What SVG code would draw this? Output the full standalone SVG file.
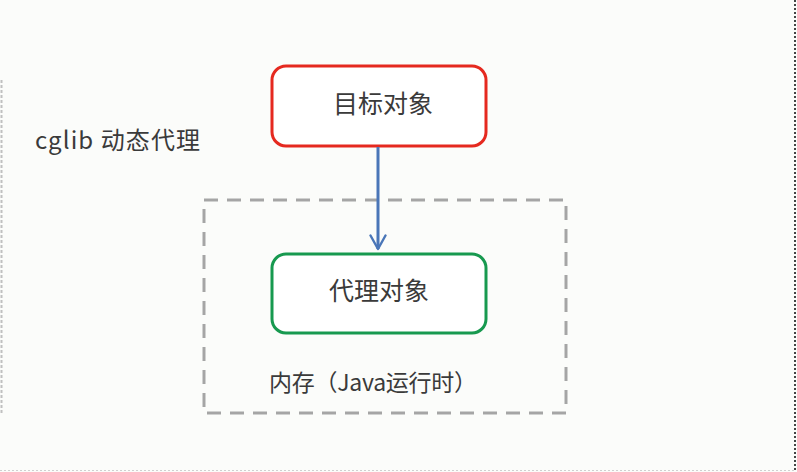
<svg xmlns="http://www.w3.org/2000/svg" width="797" height="472" viewBox="0 0 797 472">
<style>
text{font-family:"Noto Sans CJK SC","Open Sans",sans-serif;fill:#3a3a3a}
.node{fill:#ffffff;stroke-width:3}
</style>
<defs>
<marker id="arr" viewBox="0 0 12 12" refX="10" refY="6" markerWidth="6" markerHeight="6" orient="auto" markerUnits="strokeWidth">
<path d="M1,1 L10,6 L1,11" fill="none" stroke="#4a76b8" stroke-width="1.6" stroke-linecap="round" stroke-linejoin="round"/>
</marker>
</defs>
<rect width="797" height="472" fill="#fbfcfa"/>
<line x1="1.5" y1="80" x2="1.5" y2="415" stroke="#c0c0c0" stroke-width="2" stroke-dasharray="3 2"/>
<line x1="795" y1="0" x2="795" y2="472" stroke="#444" stroke-width="2" stroke-dasharray="2 2"/>
<line x1="0" y1="470.5" x2="795" y2="470.5" stroke="#d0d0d0" stroke-width="1" stroke-dasharray="2 2"/>
<text x="35" y="149" font-size="24" textLength="165" lengthAdjust="spacing">cglib 动态代理</text>
<g id="memory">
<rect x="204" y="200" width="362" height="213" fill="none" stroke="#a5a5a5" stroke-width="3" stroke-dasharray="14 9"/>
<text x="269" y="391" font-size="23" textLength="208" lengthAdjust="spacing">内存（Java运行时）</text>
</g>
<g id="target">
<rect class="node" x="272" y="66" width="214" height="80" rx="14" stroke="#e5291f"/>
<text x="383" y="113" font-size="25" text-anchor="middle">目标对象</text>
</g>
<g id="proxy">
<rect class="node" x="272" y="254" width="214" height="79" rx="14" stroke="#17994f"/>
<text x="379" y="300" font-size="25" text-anchor="middle">代理对象</text>
</g>
<g id="connectors">
<line x1="378" y1="147" x2="378" y2="249" stroke="#4a76b8" stroke-width="3" marker-end="url(#arr)"/>
</g>
</svg>
